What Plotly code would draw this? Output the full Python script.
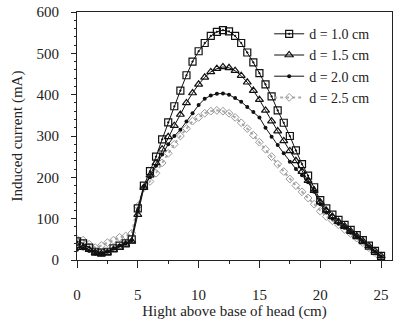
import plotly.graph_objects as go

x = [i * 0.5 for i in range(51)]

d10 = [45, 40, 30, 20, 18, 20, 28, 35, 40, 50,
       125, 180, 215, 250, 292, 333, 372, 410, 447, 480,
       505, 525, 542, 552, 556, 553, 542, 525, 502, 478,
       452, 425, 396, 362, 332, 300, 265, 232, 204, 176,
       145, 125, 110, 97, 85, 73, 60, 48, 35, 22, 10]
d15 = [35, 30, 25, 18, 15, 18, 25, 30, 38, 45,
       110, 175, 205, 235, 268, 298, 325, 352, 380, 404,
       425, 442, 455, 463, 467, 465, 458, 446, 430, 410,
       388, 362, 336, 312, 288, 264, 240, 214, 192, 168,
       140, 120, 105, 93, 82, 70, 58, 46, 34, 22, 10]
d20 = [25, 28, 22, 15, 14, 20, 28, 35, 40, 48,
       120, 178, 200, 228, 255, 280, 300, 315, 335, 355,
       375, 390, 398, 402, 403, 400, 392, 383, 370, 358,
       345, 320, 298, 278, 258, 238, 220, 205, 188, 165,
       135, 115, 100, 88, 78, 66, 55, 44, 32, 20, 8]
d25 = [50, 48, 38, 30, 35, 42, 48, 55, 58, 65,
       130, 175, 190, 210, 235, 258, 280, 300, 318, 336,
       345, 355, 360, 362, 360, 355, 345, 332, 318, 302,
       285, 268, 250, 232, 214, 196, 180, 165, 150, 135,
       118, 105, 95, 85, 74, 64, 53, 42, 30, 18, 6]

labels = ["d = 1.0 cm", "d = 1.5 cm", "d = 2.0 cm", "d = 2.5 cm"]
FONT = "Liberation Serif"

fig = go.Figure()
fig.add_trace(go.Scatter(
    x=x, y=d25, name=labels[3], mode="lines+markers", legendrank=4,
    line=dict(color="#aaaaaa", width=2, dash="dot"),
    marker=dict(symbol="diamond-open", size=6, color="#999999", line=dict(width=1))))
fig.add_trace(go.Scatter(
    x=x, y=d20, name=labels[2], mode="lines+markers", legendrank=3,
    line=dict(color="#111111", width=1),
    marker=dict(symbol="circle", size=4, color="#111111")))
fig.add_trace(go.Scatter(
    x=x, y=d15, name=labels[1], mode="lines+markers", legendrank=2,
    line=dict(color="#111111", width=1),
    marker=dict(symbol="triangle-up-open", size=7, color="#111111", line=dict(width=1.2))))
fig.add_trace(go.Scatter(
    x=x, y=d10, name=labels[0], mode="lines+markers", legendrank=1,
    line=dict(color="#111111", width=1),
    marker=dict(symbol="square-open-dot", size=7, color="#111111", line=dict(width=1.2))))

fig.update_layout(
    width=397, height=324,
    margin=dict(l=77, r=4, t=10, b=64),
    paper_bgcolor="white", plot_bgcolor="white",
    font=dict(family=FONT, size=15, color="#222222"),
    legend=dict(x=0.61, y=0.975, xanchor="left", yanchor="top",
                traceorder="normal",
                bgcolor="rgba(0,0,0,0)", font=dict(family=FONT, size=14)),
    xaxis=dict(range=[0, 25.9], tickvals=[0, 5, 10, 15, 20, 25],
               ticks="outside", ticklen=7, tickcolor="#222", ticklabelstandoff=14,
               minor=dict(ticks="outside", ticklen=3, dtick=2.5, tickcolor="#222"),
               showline=True, linecolor="#222", linewidth=1, mirror=True,
               showgrid=False, zeroline=False,
               title=dict(text="Hight above base of head (cm)", standoff=0,
                          font=dict(family=FONT, size=15))),
    yaxis=dict(range=[0, 600], tickvals=[0, 100, 200, 300, 400, 500, 600],
               ticks="outside", ticklen=5, tickcolor="#222", ticklabelstandoff=9,
               minor=dict(ticks="outside", ticklen=2, dtick=20, tickcolor="#222"),
               showline=True, linecolor="#222", linewidth=1, mirror=True,
               showgrid=False, zeroline=False,
               title=dict(text="Induced current (mA)", standoff=10,
                          font=dict(family=FONT, size=15))),
)

fig.write_html("out.html")
